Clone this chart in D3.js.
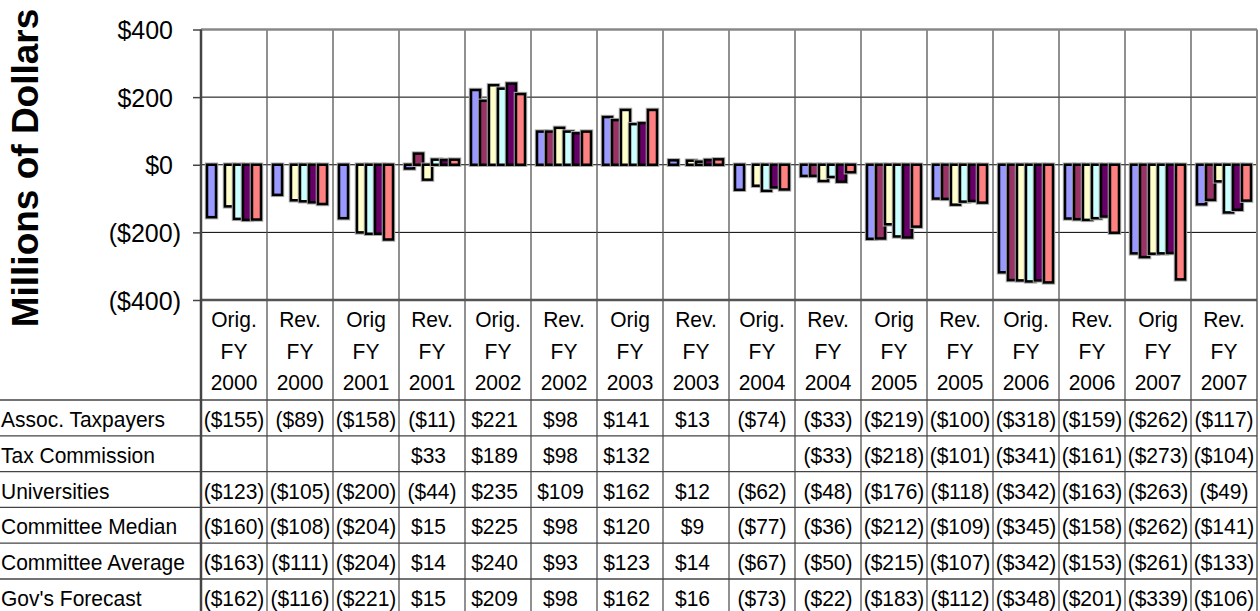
<!DOCTYPE html>
<html>
<head>
<meta charset="utf-8">
<script src="https://cdn.jsdelivr.net/npm/d3@7"></script>
<style>
  body { margin: 0; background: #fff; }
  svg text { font-family: "Liberation Sans", Arial, sans-serif; fill: #000; }
</style>
</head>
<body>
<div id="chart"></div>
<script>
// chart data
var kinds = ["Orig.", "Rev.", "Orig", "Rev.", "Orig.", "Rev.", "Orig", "Rev.",
             "Orig.", "Rev.", "Orig", "Rev.", "Orig.", "Rev.", "Orig", "Rev."];
var years = ["2000", "2000", "2001", "2001", "2002", "2002", "2003", "2003",
             "2004", "2004", "2005", "2005", "2006", "2006", "2007", "2007"];
var seriesNames = ["Assoc. Taxpayers", "Tax Commission", "Universities",
                   "Committee Median", "Committee Average", "Gov's Forecast"];
var assocTaxpayers = [-155, -89, -158, -11, 221, 98, 141, 13, -74, -33, -219, -100, -318, -159, -262, -117];
var taxCommission = [null, null, null, 33, 189, 98, 132, null, null, -33, -218, -101, -341, -161, -273, -104];
var universities = [-123, -105, -200, -44, 235, 109, 162, 12, -62, -48, -176, -118, -342, -163, -263, -49];
var committeeMedian = [-160, -108, -204, 15, 225, 98, 120, 9, -77, -36, -212, -109, -345, -158, -262, -141];
var committeeAverage = [-163, -111, -204, 14, 240, 93, 123, 14, -67, -50, -215, -107, -342, -153, -261, -133];
var govForecast = [-162, -116, -221, 15, 209, 98, 162, 16, -73, -22, -183, -112, -348, -201, -339, -106];
var yTicks = [-400, -200, 0, 200, 400];

var seriesValues = [assocTaxpayers, taxCommission, universities,
                    committeeMedian, committeeAverage, govForecast];
var colors = ["#9999ff", "#993366", "#ffffcc", "#ccffff", "#660066", "#ff8080"];

var width = 1260, height = 611;
var plotLeft = 201, plotRight = 1257, plotTop = 29.5, plotBottom = 300;
var rowTop = 400, rowH = 35.8;
var stretch = "scale(1,1.08)";   // table text is a bit taller than wide

var svg = d3.select("#chart")
    .append("svg")
    .attr("width", width)
    .attr("height", height);

// scales
var x = d3.scaleBand()
    .domain(d3.range(kinds.length))
    .range([plotLeft, plotRight])
    .padding(0);

var xs = d3.scaleBand()
    .domain(d3.range(seriesNames.length))
    .range([0, x.bandwidth()])
    .paddingInner(0)
    .paddingOuter(0.67);

var y = d3.scaleLinear()
    .domain([-400, 400])
    .range([plotBottom, plotTop]);

function money(v) {
    return v < 0 ? "($" + Math.abs(v) + ")" : "$" + v;
}

// horizontal gridlines
svg.append("g")
    .selectAll("line")
    .data(yTicks.filter(function(d) { return d > -400 && d < 400; }))
    .enter()
    .append("line")
    .attr("x1", plotLeft).attr("x2", plotRight)
    .attr("y1", function(d) { return y(d); })
    .attr("y2", function(d) { return y(d); })
    .attr("stroke", "#000")
    .attr("stroke-width", 1);

// vertical lines (plot + table)
svg.append("g")
    .selectAll("line")
    .data(d3.range(1, kinds.length))
    .enter()
    .append("line")
    .attr("x1", function(d) { return x(d); })
    .attr("x2", function(d) { return x(d); })
    .attr("y1", plotTop).attr("y2", height)
    .attr("stroke", "#555")
    .attr("stroke-width", 1.3);

// plot frame
svg.append("line").attr("x1", plotLeft).attr("x2", plotRight).attr("y1", plotTop).attr("y2", plotTop)
    .attr("stroke", "#888").attr("stroke-width", 2.5);
svg.append("line").attr("x1", plotRight).attr("x2", plotRight).attr("y1", plotTop).attr("y2", height)
    .attr("stroke", "#888").attr("stroke-width", 2);
svg.append("line").attr("x1", plotLeft).attr("x2", plotRight).attr("y1", plotBottom).attr("y2", plotBottom)
    .attr("stroke", "#555").attr("stroke-width", 2.5);
svg.append("line").attr("x1", plotLeft).attr("x2", plotLeft).attr("y1", plotTop).attr("y2", height)
    .attr("stroke", "#444").attr("stroke-width", 2.5);

// y axis
var yAxis = svg.append("g")
    .attr("transform", "translate(" + plotLeft + ",0)")
    .call(d3.axisLeft(y).tickValues(yTicks).tickSize(8).tickFormat(money));
yAxis.select(".domain").remove();
yAxis.selectAll(".tick line").attr("stroke", "#444").attr("stroke-width", 1.5);
yAxis.selectAll(".tick text")
    .attr("x", function(d) { return d < 0 ? -20 : -28; })
    .attr("dy", "0.36em")
    .style("font-size", "25px");

svg.append("text")
    .attr("transform", "translate(38,168) rotate(-90)")
    .attr("text-anchor", "middle")
    .style("font-size", "37px")
    .style("font-weight", "bold")
    .text("Millions of Dollars");

// bars: soft grey halo under a black outline
var bars = svg.append("g");
seriesValues.forEach(function(vals, s) {
    var g = bars.append("g");
    var data = vals.map(function(v, i) { return { i: i, v: v }; })
        .filter(function(d) { return d.v !== null; });
    ["halo", "bar"].forEach(function(kind) {
        g.selectAll("rect." + kind)
            .data(data)
            .enter()
            .append("rect")
            .attr("class", kind)
            .attr("x", function(d) { return x(d.i) + xs(s); })
            .attr("width", xs.bandwidth())
            .attr("y", function(d) { return y(Math.max(0, d.v)); })
            .attr("height", function(d) { return Math.abs(y(d.v) - y(0)); })
            .attr("fill", colors[s])
            .attr("stroke", kind === "halo" ? "#aaa" : "#000")
            .attr("stroke-width", kind === "halo" ? 4.5 : 2.5);
    });
});

// table header (category labels)
var header = svg.append("g");
[kinds, kinds.map(function() { return "FY"; }), years].forEach(function(lines, r) {
    header.selectAll(".h" + r)
        .data(lines)
        .enter()
        .append("text")
        .attr("transform", function(d, i) {
            return "translate(" + (x(i) + x.bandwidth() / 2) + "," + (327 + r * 31.5) + ") " + stretch;
        })
        .attr("text-anchor", "middle")
        .style("font-size", "21px")
        .text(function(d) { return d; });
});

// table rows
svg.append("g")
    .selectAll("line")
    .data(d3.range(seriesNames.length + 1))
    .enter()
    .append("line")
    .attr("x1", 0).attr("x2", plotRight)
    .attr("y1", function(d) { return rowTop + d * rowH; })
    .attr("y2", function(d) { return rowTop + d * rowH; })
    .attr("stroke", "#444")
    .attr("stroke-width", 1.3);

var rows = svg.append("g")
    .selectAll("g")
    .data(seriesNames)
    .enter()
    .append("g")
    .attr("transform", function(d, s) { return "translate(0," + (rowTop + s * rowH + 27) + ")"; });

rows.append("text")
    .attr("transform", "translate(1,0) " + stretch)
    .style("font-size", "21px")
    .text(function(d) { return d; });

rows.each(function(name, s) {
    d3.select(this).selectAll(".val")
        .data(seriesValues[s])
        .enter()
        .append("text")
        .attr("transform", function(d, i) {
            var cx = x(i) + x.bandwidth() / 2 + (d >= 0 ? -3.5 : 0);
            return "translate(" + cx + ",0) " + stretch;
        })
        .attr("text-anchor", "middle")
        .style("font-size", "21px")
        .text(function(d) { return d === null ? "" : money(d); });
});
</script>
</body>
</html>
